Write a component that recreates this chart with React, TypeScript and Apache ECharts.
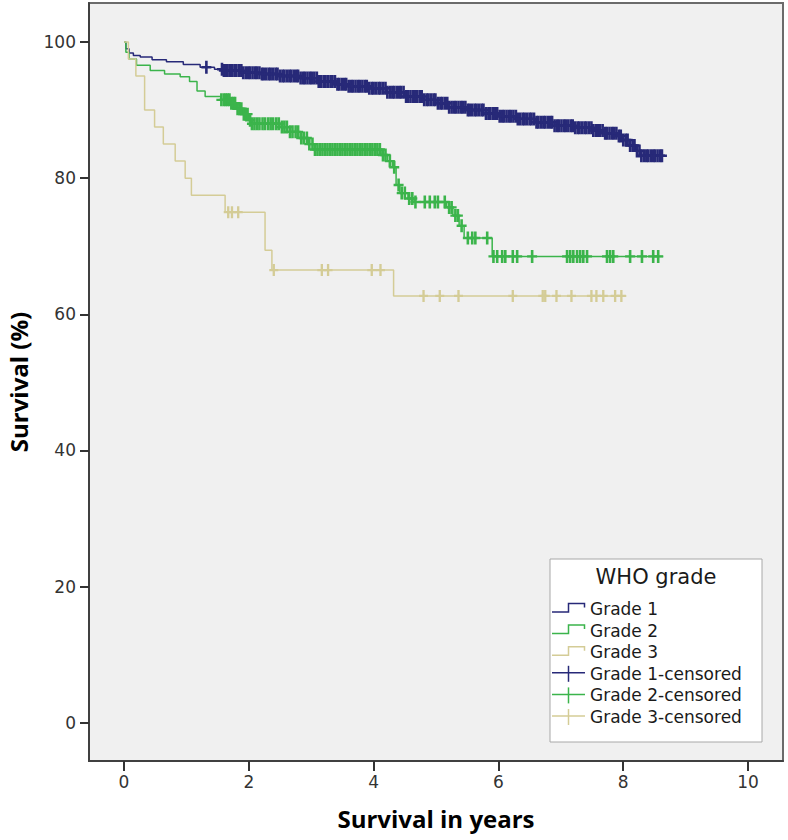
import React, { useEffect, useRef } from "react";
import * as echarts from "echarts";

const curveNames = ["Grade 1", "Grade 2", "Grade 3"];
const censorNames = ["Grade 1-censored", "Grade 2-censored", "Grade 3-censored"];
const gradeColors = ["#272978", "#3bb44b", "#d4cc96"];
const legendTitle = "WHO grade";
const xTicks = [0, 2, 4, 6, 8, 10];
const yTicks = [0, 20, 40, 60, 80, 100];

// Kaplan-Meier step curves: [years, survival %]
const grade1Curve = [
  [0, 100], [0.03, 99.0], [0.08, 98.4], [0.15, 98.0], [0.26, 97.8], [0.45, 97.4],
  [0.68, 97.1], [0.95, 96.7], [1.22, 96.3], [1.45, 96.0], [1.6, 95.8], [1.9, 95.5],
  [2.2, 95.3], [2.5, 95.0], [2.8, 94.7], [3.1, 94.2], [3.4, 93.8], [3.6, 93.5],
  [3.9, 93.2], [4.2, 92.6], [4.5, 92.0], [4.8, 91.5], [5.0, 91.0], [5.2, 90.4],
  [5.5, 90.0], [5.8, 89.5], [6.0, 89.1], [6.3, 88.7], [6.6, 88.2], [6.9, 87.7],
  [7.2, 87.4], [7.5, 87.0], [7.7, 86.6], [7.9, 86.2], [8.0, 85.6], [8.1, 84.8],
  [8.2, 84.0], [8.28, 83.3], [8.65, 83.3],
];
const grade2Curve = [
  [0, 100], [0.03, 98.5], [0.08, 97.5], [0.2, 96.6], [0.42, 95.8], [0.65, 95.3],
  [0.9, 94.9], [1.05, 94.2], [1.17, 92.8], [1.3, 92.0], [1.55, 91.5], [1.7, 91.0],
  [1.8, 90.2], [1.9, 89.4], [2.0, 88.5], [2.05, 88.0], [2.5, 87.5], [2.65, 86.8],
  [2.8, 85.9], [2.95, 85.0], [3.05, 84.2], [4.12, 83.4], [4.22, 82.5], [4.3, 81.6],
  [4.36, 79.0], [4.42, 77.8], [4.55, 77.0], [4.65, 76.5], [5.17, 75.7], [5.27, 74.5],
  [5.37, 73.0], [5.45, 71.2], [5.9, 68.5], [8.64, 68.5],
];
const grade3Curve = [
  [0, 100], [0.07, 97.5], [0.19, 95.0], [0.33, 90.0], [0.49, 87.5], [0.63, 85.0],
  [0.82, 82.5], [0.98, 80.0], [1.08, 77.5], [1.62, 75.0], [2.26, 69.4], [2.37, 66.5],
  [4.32, 62.7], [8.05, 62.7],
];

// Censoring times (years)
const grade1Censored = [
  1.32,
  1.57, 1.60, 1.63, 1.66, 1.70, 1.73, 1.77, 1.80, 1.84, 1.88, 1.91, 1.95, 1.99, 2.02, 2.06,
  2.10, 2.13, 2.17, 2.21, 2.24, 2.28, 2.32, 2.35, 2.39, 2.43, 2.46, 2.50, 2.54, 2.57, 2.61,
  2.65, 2.68, 2.72, 2.76, 2.79, 2.83, 2.87, 2.90, 2.94, 2.98, 3.01, 3.05, 3.09, 3.12, 3.16,
  3.20, 3.23, 3.27, 3.31, 3.34, 3.38, 3.42, 3.45, 3.49, 3.53, 3.56, 3.60, 3.64, 3.67, 3.71,
  3.75, 3.78, 3.82, 3.86, 3.89, 3.93, 3.97, 4.00, 4.04, 4.08, 4.11, 4.15, 4.19, 4.22, 4.26,
  4.30, 4.33, 4.37, 4.41, 4.44, 4.48, 4.52, 4.55, 4.59, 4.63, 4.66, 4.70, 4.74, 4.77, 4.81,
  4.85, 4.88, 4.92, 4.96, 4.99, 5.03, 5.07, 5.10, 5.14, 5.18, 5.21, 5.25, 5.29, 5.32, 5.36,
  5.40, 5.43, 5.47, 5.51, 5.54, 5.58, 5.62, 5.65, 5.69, 5.73, 5.76, 5.80, 5.84, 5.87, 5.91,
  5.95, 5.98, 6.02, 6.06, 6.09, 6.13, 6.17, 6.20, 6.24, 6.28, 6.31, 6.35, 6.39, 6.42, 6.46,
  6.50, 6.53, 6.57, 6.61, 6.64, 6.68, 6.72, 6.75, 6.79, 6.83, 6.86, 6.90, 6.94, 6.97, 7.01,
  7.05, 7.08, 7.12, 7.16, 7.19, 7.23, 7.27, 7.30, 7.34, 7.38, 7.41, 7.45, 7.49, 7.52, 7.56,
  7.60, 7.63, 7.67, 7.71, 7.74, 7.78, 7.82, 7.85, 7.89, 7.93, 7.96, 8.00, 8.04, 8.07, 8.11,
  8.15, 8.18, 8.22, 8.26, 8.29, 8.33, 8.37, 8.40, 8.44, 8.48, 8.51, 8.55, 8.59, 8.62,
];
const grade2Censored = [
  1.56, 1.60, 1.63, 1.66, 1.69, 1.72, 1.75, 1.78, 1.82, 1.85, 1.88, 1.92, 1.95, 1.98, 2.02,
  2.05, 2.09, 2.13, 2.17, 2.22, 2.26, 2.31, 2.35, 2.39, 2.44, 2.48, 2.53, 2.57, 2.61, 2.66,
  2.70, 2.75, 2.79, 2.84, 2.88, 2.93, 2.97, 3.02, 3.06, 3.10, 3.14, 3.18, 3.22, 3.26, 3.30,
  3.34, 3.38, 3.42, 3.46, 3.50, 3.54, 3.58, 3.62, 3.66, 3.70, 3.74, 3.78, 3.82, 3.86, 3.90,
  3.94, 3.98, 4.02, 4.06, 4.10, 4.15, 4.19, 4.26, 4.33, 4.40, 4.45, 4.50, 4.57, 4.62, 4.67,
  4.82, 4.90, 4.98, 5.03, 5.14, 5.21, 5.25, 5.31, 5.35, 5.41, 5.51, 5.58, 5.63, 5.82, 5.92,
  5.98, 6.06, 6.11, 6.23, 6.30, 6.54, 7.10, 7.15, 7.20, 7.26, 7.31, 7.36, 7.42, 7.74, 7.79,
  7.84, 8.11, 8.30, 8.48, 8.56,
];
const grade3Censored = [
  1.67, 1.73, 1.83, 2.40, 3.17, 3.27, 3.97, 4.11, 4.80, 5.06, 5.36, 6.23, 6.71, 6.75, 6.93,
  7.17, 7.49, 7.57, 7.68, 7.87, 7.97,
];

const curves = [grade1Curve, grade2Curve, grade3Curve];
const censored = [grade1Censored, grade2Censored, grade3Censored];

function survivalAt(curve: number[][], t: number): number {
  let s = curve[0][1];
  for (const [ct, cs] of curve) {
    if (ct <= t) s = cs;
    else break;
  }
  return s;
}

const plusSymbol = "path://M3.7,0H6.3V13H3.7Z M0,5.3H10V7.7H0Z";
const tickFont = "'DejaVu Sans', 'Liberation Sans', sans-serif";
const titleFont = "'Open Sans', 'Liberation Sans', sans-serif";

export default function App() {
  const ref = useRef<HTMLDivElement>(null);

  useEffect(() => {
    if (!ref.current) return;
    const chart = echarts.init(ref.current, null, { renderer: "svg" });

    const lineSeries = curves.map((c, i) => ({
      type: "line",
      name: curveNames[i],
      data: c,
      step: "end",
      symbol: "none",
      showSymbol: false,
      silent: true,
      lineStyle: { color: gradeColors[i], width: 1.5 },
      itemStyle: { color: gradeColors[i] },
      z: 2,
    }));
    const markSeries = censored.map((ts, i) => ({
      type: "scatter",
      name: censorNames[i],
      data: ts.map((t) => [t, survivalAt(curves[i], t)]),
      symbol: plusSymbol,
      symbolSize: i === 2 ? [9, 12] : [10, 13],
      silent: true,
      itemStyle: { color: gradeColors[i], opacity: 1 },
      z: 3,
    }));

    // Legend drawn as graphic
    const lgX = 550, lgY = 559, lgW = 212, lgH = 183;
    const firstCy = 609, step = 21.6;
    const legendEls: any[] = [
      {
        type: "rect",
        shape: { x: lgX, y: lgY, width: lgW, height: lgH },
        style: { fill: "#ffffff", stroke: "#a8a8a8", lineWidth: 1 },
        z: 50,
      },
      {
        type: "text",
        x: lgX + lgW / 2,
        y: 577,
        style: {
          text: legendTitle, fontSize: 21, fontFamily: tickFont, fill: "#1a1a1a",
          align: "center", verticalAlign: "middle",
        },
        z: 51,
      },
    ];
    const allNames = [...curveNames, ...censorNames];
    allNames.forEach((nm, k) => {
      const cy = firstCy + k * step;
      const col = gradeColors[k % 3];
      if (k < 3) {
        legendEls.push({
          type: "polyline",
          shape: { points: [[552, cy + 3], [568.5, cy + 3], [568.5, cy - 5.5], [584.5, cy - 5.5], [584.5, cy - 1.5]] },
          style: { stroke: col, lineWidth: 1.5, fill: "none" },
          z: 51,
        });
      } else {
        legendEls.push({
          type: "line",
          shape: { x1: 552, y1: cy - 1, x2: 585, y2: cy - 1 },
          style: { stroke: col, lineWidth: 1.5 },
          z: 51,
        });
        legendEls.push({
          type: "line",
          shape: { x1: 568.5, y1: cy - 8, x2: 568.5, y2: cy + 8 },
          style: { stroke: col, lineWidth: 1.5 },
          z: 51,
        });
      }
      legendEls.push({
        type: "text",
        x: 590,
        y: cy,
        style: { text: nm, fontSize: 17, fontFamily: tickFont, fill: "#1a1a1a", align: "left", verticalAlign: "middle" },
        z: 51,
      });
    });

    chart.setOption({
      animation: false,
      backgroundColor: "#ffffff",
      grid: {
        left: 89, right: 5, top: 3, bottom: 79,
        outerBoundsMode: "none",
        containLabel: false,
        show: true, backgroundColor: "#f0f0f0", borderColor: "#6b6b6b", borderWidth: 2,
      },
      xAxis: {
        type: "value",
        min: -0.561,
        max: 10.56,
        name: "Survival in years",
        nameLocation: "middle",
        nameGap: 45,
        nameTextStyle: { fontFamily: titleFont, fontWeight: "bold", fontSize: 24, color: "#000" },
        axisLine: { show: true, onZero: false, lineStyle: { color: "#404040", width: 2 } },
        axisTick: { show: true, length: 10, customValues: xTicks, lineStyle: { color: "#333", width: 2 } },
        axisLabel: { customValues: xTicks, margin: 12, fontSize: 17, fontFamily: tickFont, color: "#333" },
        splitLine: { show: false },
      },
      yAxis: {
        type: "value",
        min: -5.63,
        max: 105.73,
        name: "Survival (%)",
        nameLocation: "middle",
        nameGap: 59,
        nameRotate: 90,
        nameTextStyle: { fontFamily: titleFont, fontWeight: "bold", fontSize: 24, color: "#000" },
        axisLine: { show: true, onZero: false, lineStyle: { color: "#404040", width: 2 } },
        axisTick: { show: true, length: 9, customValues: yTicks, lineStyle: { color: "#333", width: 2 } },
        axisLabel: { customValues: yTicks, margin: 13, fontSize: 17, fontFamily: tickFont, color: "#333" },
        splitLine: { show: false },
      },
      series: [...lineSeries, ...markSeries],
      graphic: { elements: legendEls },
    });

    return () => chart.dispose();
  }, []);

  return (
    <div
      ref={ref}
      style={{ position: "fixed", left: 0, top: 0, width: 788, height: 840 }}
    />
  );
}
